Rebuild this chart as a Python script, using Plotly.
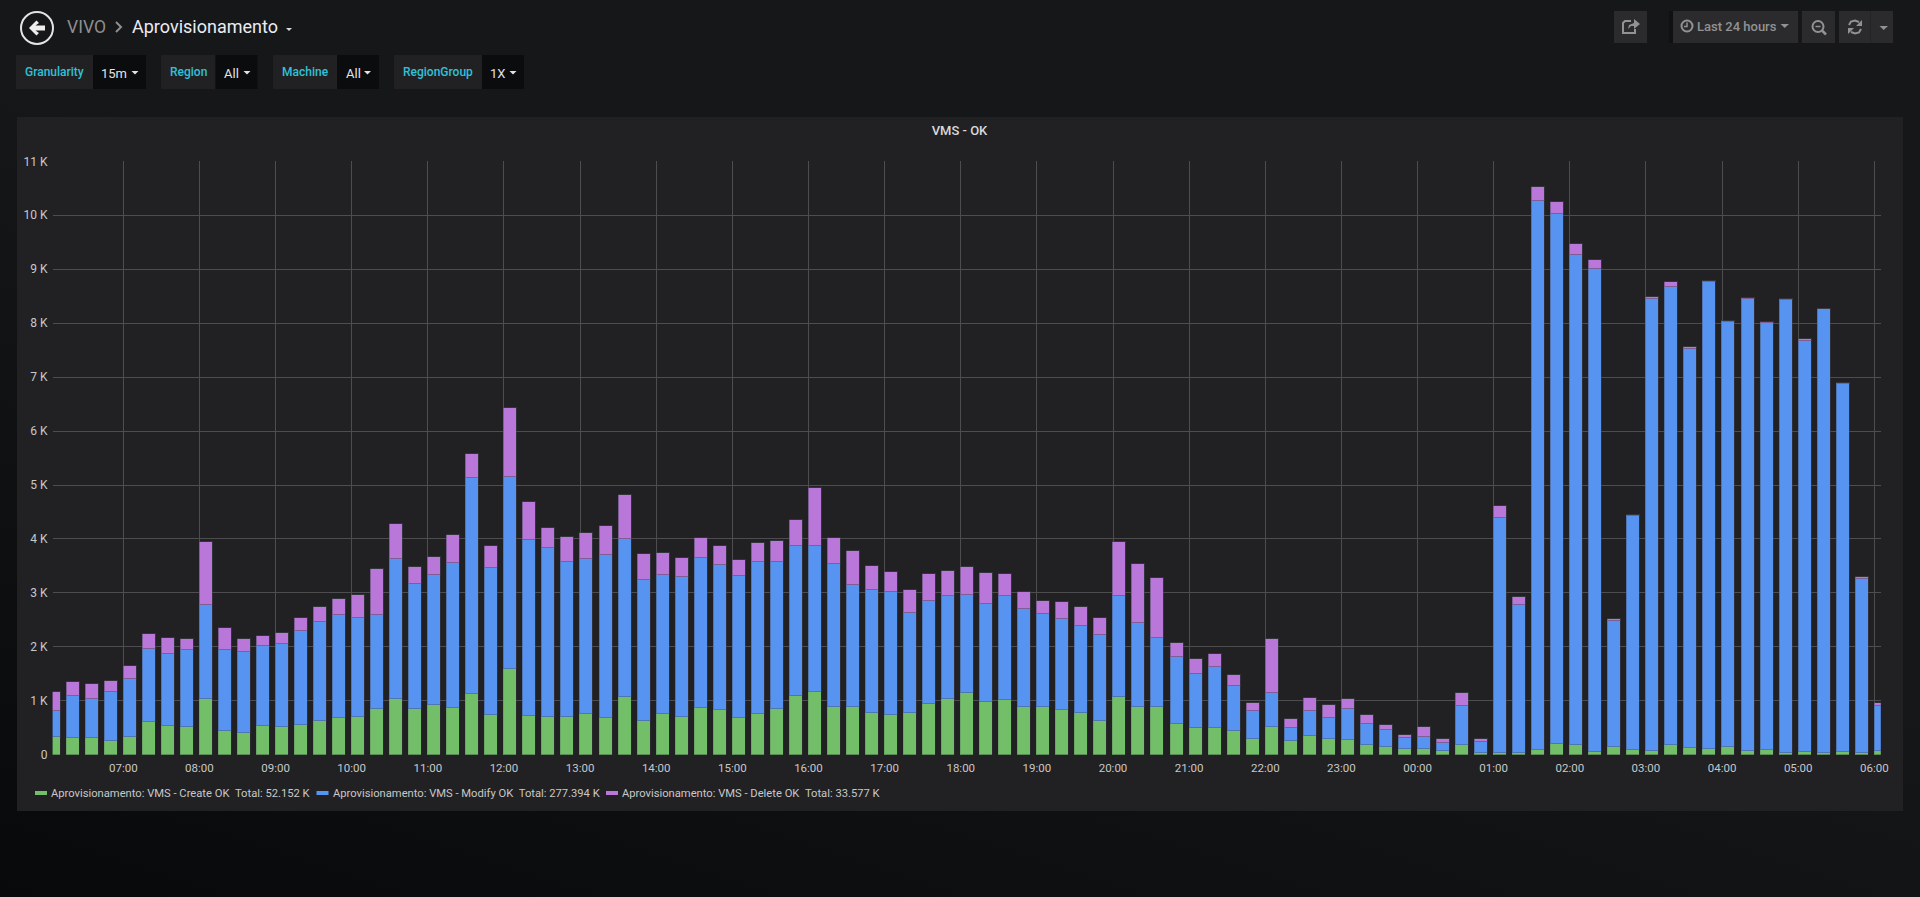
import pandas as pd
import plotly.graph_objects as go

W, H = 1920, 897

# 15 minute buckets, 06:00 to 06:00 the next day
times = pd.date_range("2019-03-14 06:00", periods=97, freq="15min")

create_ok = [327, 309, 309, 253, 333, 611, 525, 519, 1031, 438, 407, 531, 506, 549, 623, 679,
             691, 852, 1025, 852, 920, 870, 1130, 728, 1586, 716, 698, 704, 753, 679, 1074, 623,
             753, 698, 858, 827, 673, 753, 846, 1080, 1154, 883, 889, 772, 728, 772, 938, 1031,
             1136, 975, 1019, 883, 883, 833, 772, 623, 1068, 883, 889, 574, 500, 488, 438, 290,
             512, 253, 346, 290, 265, 179, 142, 93, 99, 68, 179, 31, 37, 19, 86, 191,
             179, 49, 130, 86, 68, 167, 123, 105, 148, 62, 80, 31, 49, 31, 49, 37, 62]
modify_ok = [482, 777, 728, 914, 1074, 1352, 1345, 1425, 1747, 1500, 1488, 1481, 1550, 1741, 1828, 1907,
             1846, 1741, 2605, 2302, 2413, 2686, 3993, 2735, 3550, 3265, 3135, 2858, 2877, 3025, 2926, 2612,
             2574, 2586, 2784, 2685, 2629, 2821, 2728, 2790, 2716, 2648, 2253, 2277, 2284, 1851, 1914, 1907,
             1827, 1809, 1913, 1821, 1716, 1673, 1611, 1587, 1864, 1561, 1278, 1241, 994, 1129, 834, 519,
             636, 247, 463, 389, 581, 395, 309, 209, 228, 148, 716, 204, 4346, 2759, 10166, 9827,
             9073, 8951, 2345, 4328, 8369, 8505, 7401, 8647, 7863, 8375, 7920, 8388, 7610, 8221, 6814, 3222, 833]
delete_ok = [345, 260, 265, 197, 235, 272, 297, 204, 1160, 408, 253, 179, 191, 247, 284, 297,
             420, 845, 648, 327, 321, 518, 445, 395, 1294, 698, 371, 469, 475, 537, 815, 481,
             401, 358, 364, 346, 309, 352, 389, 482, 1062, 488, 630, 439, 377, 433, 500, 463,
             518, 580, 420, 308, 253, 327, 345, 321, 1006, 1087, 1111, 247, 278, 253, 209, 154,
             988, 160, 247, 241, 185, 154, 105, 56, 192, 80, 241, 61, 228, 148, 259, 222,
             211, 159, 44, 30, 44, 80, 32, 31, 26, 26, 18, 25, 45, 7, 31, 25, 62]

series_names = ["Aprovisionamento: VMS - Create OK", "Aprovisionamento: VMS - Modify OK", "Aprovisionamento: VMS - Delete OK"]
series_totals = ["Total: 52.152 K", "Total: 277.394 K", "Total: 33.577 K"]
series_colors = ["#73BF69", "#5794F2", "#B877D9"]
series_edges = ["rgba(70,70,85,0.2)", "rgba(70,70,85,0.4)", "rgba(70,70,85,0.5)"]

y_ticks = [0, 1000, 2000, 3000, 4000, 5000, 6000, 7000, 8000, 9000, 10000, 11000]
y_labels = ["0", "1 K", "2 K", "3 K", "4 K", "5 K", "6 K", "7 K", "8 K", "9 K", "10 K", "11 K"]

PANEL = "#212124"
BTN = "#2b2b2d"
GREY = "#929292"
FONT = "Roboto"


def X(px):
    return px / W


def Y(py):
    return 1 - py / H


def rect(x0, y0, x1, y1, fill):
    return dict(type="rect", xref="paper", yref="paper", x0=X(x0), x1=X(x1), y0=Y(y0), y1=Y(y1),
                fillcolor=fill, line_width=0, layer="below")


def poly(points, fill=None, line=None, width=0, close=True):
    d = "M " + " L ".join(f"{X(a):.5f} {Y(b):.5f}" for a, b in points) + (" Z" if close else "")
    return dict(type="path", xref="paper", yref="paper", path=d, fillcolor=fill or "rgba(0,0,0,0)",
                line=dict(color=line or "rgba(0,0,0,0)", width=width), layer="above")


def ring(cx, cy, r, color, width):
    return dict(type="circle", xref="paper", yref="paper", x0=X(cx - r), x1=X(cx + r), y0=Y(cy + r), y1=Y(cy - r),
                line=dict(color=color, width=width), layer="above")


def label(x, y, text, size, color, anchor="left", weight=400):
    return dict(xref="paper", yref="paper", x=X(x), y=Y(y), text=text, showarrow=False, xanchor=anchor,
                yanchor="middle", borderpad=0,
                font=dict(family=FONT, size=size, color=color, weight=weight))


fig = go.Figure()
for name, total, color, edge, values in zip(series_names, series_totals, series_colors, series_edges, [create_ok, modify_ok, delete_ok]):
    fig.add_trace(go.Bar(x=times, y=values, name=f"{name}  {total}", offset=0, width=615000,
                         marker=dict(color=color, line=dict(color=edge, width=1))))

shapes = [rect(17, 117, 1903, 811, PANEL)]
annotations = []

# header
shapes.append(ring(37, 28, 16, "#e4e4e4", 2))
shapes.append(poly([(29, 28), (36.5, 20.5), (39, 23), (35.5, 25.5), (45, 25.5), (45, 30.5), (35.5, 30.5), (39, 33), (36.5, 35.5)], fill="#eeeeee"))
annotations.append(label(66, 27, "VIVO", 17.5, "#8e8e8e"))
shapes.append(poly([(116, 22), (121, 27), (116, 32)], line="#8e8e8e", width=2, close=False))
annotations.append(label(131, 27, "Aprovisionamento", 18, "#e9edf2"))
shapes.append(poly([(286, 28), (292, 28), (289, 31)], fill="#d8d9da"))

# template variables
variables = [("Granularity", "15m", 16, 93, 146, 24, 100, 131.5),
             ("Region", "All", 161, 215.5, 257.5, 168.5, 223, 243.5),
             ("Machine", "All", 273, 337, 379, 281, 344.5, 364),
             ("RegionGroup", "1X", 394, 482, 524, 402, 489, 509.5)]
for name, val, x0, xm, x1, xl, xv, xc in variables:
    shapes.append(rect(x0, 55, xm, 89, PANEL))
    shapes.append(rect(xm, 55, x1, 89, "#0b0c0e"))
    annotations.append(label(xl, 72.5, name, 12, "#2fc1d8", weight=500))
    annotations.append(label(xv, 73, val, 13, "#e3e3e3"))
    shapes.append(poly([(xc, 71), (xc + 7, 71), (xc + 3.5, 74.5)], fill="#e3e3e3"))

# top right buttons
shapes += [rect(1614, 11, 1647, 43, BTN), rect(1669, 11, 1673, 43, "#101113"), rect(1673, 11, 1798, 43, BTN),
           rect(1802, 11, 1835, 43, BTN), rect(1839, 11, 1893, 43, BTN), rect(1870, 11, 1871, 43, "#232426")]
shapes.append(poly([(1631, 21), (1625, 21), (1623, 23), (1623, 33), (1635, 33), (1635, 29)], line=GREY, width=2, close=False))
shapes.append(poly([(1628, 29), (1629, 25), (1634, 23), (1634, 19), (1640, 24), (1634, 29), (1634, 26), (1631, 26)], fill=GREY))
shapes.append(ring(1687, 26, 5.5, GREY, 2))
shapes.append(poly([(1687, 22.5), (1687, 26.5), (1684, 26.5)], line=GREY, width=1.5, close=False))
annotations.append(label(1696, 26.5, "Last 24 hours", 13, GREY, weight=500))
shapes.append(poly([(1780.5, 24), (1789, 24), (1784.7, 28)], fill=GREY))
shapes.append(ring(1818, 26.5, 5.5, GREY, 2))
shapes.append(poly([(1815.5, 26.5), (1820.5, 26.5)], line=GREY, width=1.5, close=False))
shapes.append(poly([(1822, 30.5), (1826, 34.5)], line=GREY, width=2.5, close=False))
shapes.append(poly([(1849, 25), (1851, 21.5), (1855, 20.5), (1859, 22)], line=GREY, width=2, close=False))
shapes.append(poly([(1861, 29), (1859, 32.5), (1855, 33.5), (1851, 32)], line=GREY, width=2, close=False))
shapes.append(poly([(1862, 20), (1862, 26), (1856, 26)], fill=GREY))
shapes.append(poly([(1848, 34), (1848, 28), (1854, 28)], fill=GREY))
shapes.append(poly([(1879.5, 26), (1888, 26), (1883.7, 30)], fill=GREY))

# legend
legend_pos = [(35, 49.5), (316.5, 331.5), (606, 620.5)]
for (sx, tx), name, total, color in zip(legend_pos, series_names, series_totals, series_colors):
    shapes.append(rect(sx, 791, sx + 12, 795, color))
    annotations.append(label(tx, 793, f"{name}\u00a0\u00a0{total}", 11.2, "#c8c8c8"))

fig.update_layout(
    width=W, height=H, autosize=False, margin=dict(l=0, r=0, t=0, b=0, autoexpand=False),
    paper_bgcolor="rgba(0,0,0,0)", plot_bgcolor="rgba(0,0,0,0)",
    barmode="stack", bargap=0, showlegend=False,
    font=dict(family=FONT, size=12, color="#c8c8c8"),
    title=dict(text="VMS - OK", x=X(959.5), y=Y(130), xanchor="center", yanchor="middle",
               font=dict(family=FONT, size=13, color="#d8d9da", weight=500)),
    shapes=shapes, annotations=annotations,
)
fig.update_xaxes(
    type="date", domain=[X(52.6), X(1880.8)],
    range=["2019-03-14 06:04:18", "2019-03-15 06:05:06"],
    dtick=3600000, tick0="2019-03-14 06:00", tickformat="%H:%M",
    showgrid=True, gridcolor="#4d4d4f", gridwidth=1, zeroline=False, showline=False,
    ticks="", ticklabelstandoff=5, tickfont=dict(family=FONT, size=11.5, color="#c8c8c8"),
)
fig.update_yaxes(
    domain=[Y(754.8), Y(161.3)], range=[0, 11000],
    tickvals=y_ticks, ticktext=y_labels,
    showgrid=True, gridcolor="#4d4d4f", gridwidth=1, zeroline=False, showline=False,
    ticks="", ticklabelstandoff=4, tickfont=dict(family=FONT, size=12, color="#c8c8c8"),
)

page_css = """
document.body.style.margin = '0';
document.body.style.overflow = 'hidden';
document.body.style.background = 'linear-gradient(198deg, #161719 45%, #08090b 100%)';
document.documentElement.style.height = '100%';
document.body.style.height = '100%';
"""
fig.write_html("out.html", config=dict(displayModeBar=False), post_script=page_css)
